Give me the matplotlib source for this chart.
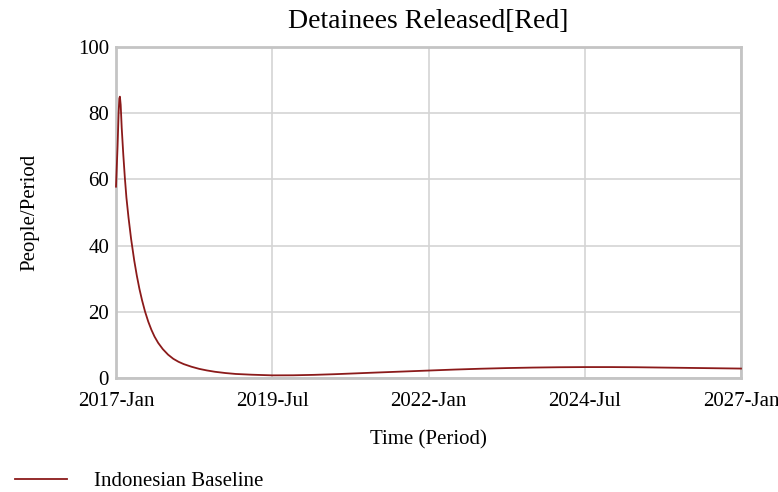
import matplotlib
matplotlib.use("Agg")
import matplotlib.pyplot as plt

# Data (months since 2017-Jan)
months = [0, 0.3, 0.5, 0.64, 0.75, 0.9, 1.1, 1.4, 1.7, 2.0, 2.4, 2.9, 3.5, 4.0, 4.5,
          5.0, 5.57, 6.2, 6.8, 7.4, 8.1, 9.0, 10.0, 11.0, 12.0, 13, 14.5, 16, 17.4,
          19, 21, 23, 26, 30, 34, 38, 42, 46, 50, 55, 60, 65, 70, 75, 80, 85,
          90, 95, 100, 105, 110, 115, 120]
released = [57.8, 70, 80, 84.5, 85, 82.5, 75.5, 67.5, 60.5, 54.5, 48.5, 42, 35.5, 30.9, 26.9,
            23.5, 20.1, 17.0, 14.55, 12.5, 10.6, 8.7, 7.05, 5.8, 4.9, 4.2, 3.4, 2.75, 2.3,
            1.88, 1.5, 1.22, 1.0, 0.8, 0.82, 0.95, 1.15, 1.4, 1.65, 1.95, 2.25, 2.55, 2.8, 3.0, 3.15, 3.25,
            3.3, 3.3, 3.25, 3.15, 3.05, 2.95, 2.85]
tick_pos = [0, 30, 60, 90, 120]
tick_labels = ["2017-Jan", "2019-Jul", "2022-Jan", "2024-Jul", "2027-Jan"]
y_ticks = [0, 20, 40, 60, 80, 100]

plt.rcParams['font.family'] = ['Liberation Serif', 'DejaVu Serif']

fig = plt.figure(figsize=(7.78, 4.92), dpi=100)
ax = fig.add_axes([116/778, 114/492, 625/778, 331/492])

line, = ax.plot(months, released, color='#8B1A1A', lw=1.3, label='Indonesian Baseline',
                zorder=3, clip_on=False)
ax.set_xlim(0, 120)
ax.set_ylim(0, 100)
ax.set_xticks(tick_pos)
ax.set_xticklabels(tick_labels)
ax.set_yticks(y_ticks)
ax.grid(True, color='#d4d4d4', lw=1.2)
ax.set_axisbelow(True)
for s in ax.spines.values():
    s.set_color('#c4c4c4')
    s.set_linewidth(2)
ax.tick_params(length=0, labelsize=15, pad=5)
ax.tick_params(axis='x', pad=10)
ax.set_title('Detainees Released[Red]', fontsize=20, pad=14)
ax.set_xlabel('Time (Period)', fontsize=15, labelpad=14)
ax.set_ylabel('People/Period', fontsize=15, labelpad=28)

fig.legend(handles=[line], loc='center left', bbox_to_anchor=(-4/778, 11/492),
           frameon=False, fontsize=15, handlelength=2.5, handletextpad=1.3,
           borderaxespad=0.0, borderpad=0.9)

fig.savefig('out.png', dpi=100)
